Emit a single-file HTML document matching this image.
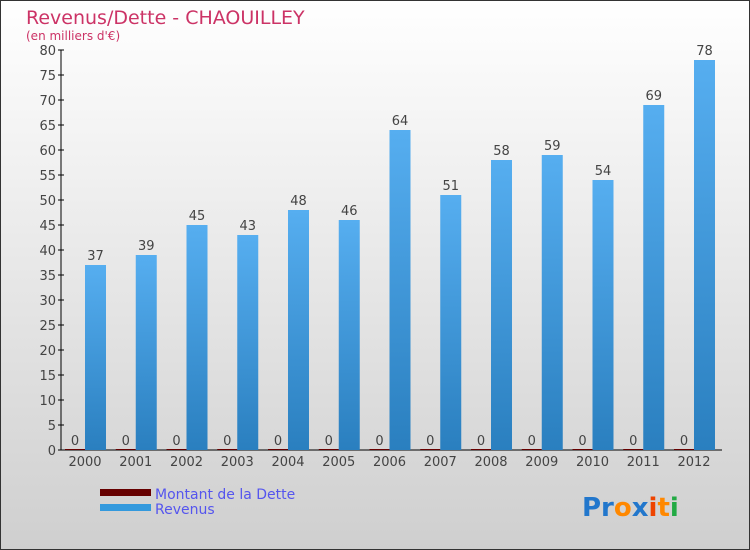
<!DOCTYPE html>
<html><head><meta charset="utf-8"><style>
body{margin:0}
#c{width:750px;height:550px;position:relative;overflow:hidden;font-family:"DejaVu Sans","Liberation Sans",sans-serif;}
svg text{font-family:"DejaVu Sans","Liberation Sans",sans-serif;}
</style></head><body>
<div id="c">
<svg id="s" width="750" height="550" xmlns="http://www.w3.org/2000/svg">
<defs>
<linearGradient id="bg" x1="0" y1="0" x2="0" y2="1"><stop offset="0" stop-color="#ffffff"/><stop offset="1" stop-color="#cfcfcf"/></linearGradient>
<linearGradient id="bar" x1="0" y1="0" x2="0" y2="1"><stop offset="0" stop-color="#56aef0"/><stop offset="1" stop-color="#2a7fbf"/></linearGradient>
</defs>
<rect x="0.5" y="0.5" width="749" height="549" fill="url(#bg)" stroke="#333"/>
<text x="26" y="24" font-size="19" fill="#cc3366">Revenus/Dette - CHAOUILLEY</text>
<text x="26" y="40" font-size="12" fill="#cc3366">(en milliers d'€)</text>
<g id="plot"></g>
<rect x="100" y="489" width="51" height="7" fill="#660000"/>
<text x="155" y="499" font-size="14" fill="#5555ee">Montant de la Dette</text>
<rect x="100" y="504" width="51" height="7" fill="#3399dd"/>
<text x="155" y="514" font-size="14" fill="#5555ee">Revenus</text>
<text x="582" y="516" font-size="26" font-weight="bold"><tspan fill="#2277cc">Pr</tspan><tspan fill="#ff8800">o</tspan><tspan fill="#2277cc">x</tspan><tspan fill="#ee4400">i</tspan><tspan fill="#ff8800">t</tspan><tspan fill="#22aa44">i</tspan></text>
</svg>
</div>
<script>
const years=["2000","2001","2002","2003","2004","2005","2006","2007","2008","2009","2010","2011","2012"];
const revenus=[37,39,45,43,48,46,64,51,58,59,54,69,78];
const dette=[0,0,0,0,0,0,0,0,0,0,0,0,0];
const yTicks=[0,5,10,15,20,25,30,35,40,45,50,55,60,65,70,75,80];
const NS="http://www.w3.org/2000/svg";
const g=document.getElementById('plot');
const y=v=>450-v*5;
const x=i=>85+i*50.75;
function mk(t,a,txt){const e=document.createElementNS(NS,t);for(const k in a)e.setAttribute(k,a[k]);if(txt!==undefined)e.textContent=txt;g.appendChild(e);return e;}
let ax=mk('line',{x1:61,y1:50,x2:61,y2:450,stroke:'#000'});


let bx=mk('line',{x1:61,y1:450,x2:722,y2:450,stroke:'#000'});


yTicks.forEach(v=>{
 let t=mk('line',{x1:58,y1:y(v),x2:64,y2:y(v),stroke:'#000'});
 
 
 let l=mk('text',{x:56,y:y(v)+5,'font-size':13,'text-anchor':'end',fill:'#444'},String(v));
 
 
});
years.forEach((yr,i)=>{
 const cx=x(i);
 let d=mk('rect',{x:cx-20,y:y(dette[i])-1,width:20,height:Math.max(1,dette[i]*5),fill:'#660000'});
 
 
 let dl=mk('text',{x:cx-10,y:y(dette[i])-5,'font-size':13,'text-anchor':'middle',fill:'#444'},String(dette[i]));
 
 
 let r=mk('rect',{x:cx,y:y(revenus[i]),width:21,height:revenus[i]*5,fill:'url(#bar)'});
 
 
 let rl=mk('text',{x:cx+10.5,y:y(revenus[i])-5,'font-size':13,'text-anchor':'middle',fill:'#444'},String(revenus[i]));
 
 
 let xl=mk('text',{x:cx,y:466,'font-size':13,'text-anchor':'middle',fill:'#444'},yr);
 
 
});
</script>
</body></html>
